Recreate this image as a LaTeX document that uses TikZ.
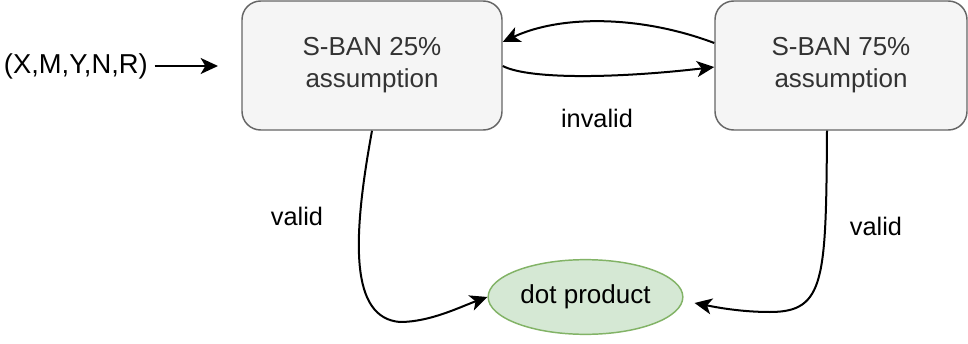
\documentclass[tikz,border=0pt]{standalone}
\usepackage{fontspec}
\setmainfont{Liberation Sans}
\usetikzlibrary{arrows.meta,calc,shapes.geometric}
\definecolor{boxfill}{HTML}{F5F5F5}
\definecolor{boxline}{HTML}{666666}
\definecolor{boxtext}{HTML}{333333}
\definecolor{okfill}{HTML}{D5E8D4}
\definecolor{okline}{HTML}{82B366}
\newcommand{\twolines}[2]{\raisebox{-3pt}{\begin{tabular}{@{}c@{}}#1\\#2\end{tabular}}}
\tikzset{
  statebox/.style={draw=boxline, fill=boxfill, line width=1.1pt,
    rounded corners=14pt, text=boxtext, align=center, inner sep=0pt,
    font=\fontsize{19.5}{24}\selectfont},
  resultnode/.style={ellipse, draw=okline, fill=okfill, line width=1.1pt,
    inner sep=0pt, minimum width=146pt, minimum height=56pt,
    font=\fontsize{19.5}{24}\selectfont},
  flow/.style={line width=1.5pt, -{Stealth[length=13pt,width=12pt,inset=3.5pt]}},
  edgetext/.style={font=\fontsize{19}{23.5}\selectfont, inner sep=0pt}
}
\begin{document}
\begin{tikzpicture}[x=0.75pt, y=-0.75pt]
  \useasboundingbox (0,0) rectangle (968,343);

  % states
  \node[statebox, minimum width=195pt, minimum height=96.75pt] (low) at (372,65.5)
    {\twolines{S-BAN 25\%}{assumption}};
  \node[statebox, minimum width=189pt, minimum height=96.75pt] (high) at (841,65.5)
    {\twolines{S-BAN 75\%}{assumption}};
  \node[resultnode] (dot) at (585.5,297) {\raisebox{-1.5pt}{dot product}};

  % input
  \node[edgetext, font=\fontsize{20.5}{24}\selectfont, anchor=east] (input) at (148,66) {(X,M,Y,N,R)};
  \coordinate (inend) at (218,66);
  \draw[flow] ([xshift=5pt]input.east) -- (inend);

  % transitions between the two assumptions
  \draw[flow] ($(high.west)+(0,-22.5)$) .. controls (640,15) and (560,15) .. ($(low.east)+(0,-23.5)$);
  \draw[flow] ($(low.east)+(0,0.5)$) .. controls (530,80) and (620,78) .. ($(high.west)+(0,1.5)$);
  \node[edgetext] (lblinvalid) at (597,118) {invalid};

  % valid results
  \draw[flow] (low.south) .. controls (352,240) and (350,318) .. (400,322)
    .. controls (430,322) and (460,307) .. (dot.west);
  \node[edgetext] (lblvalidl) at (297,216) {valid};

  \draw[flow] ($(high.south)+(-14,0)$) .. controls (826,280) and (825,312) .. (770,312)
    .. controls (740,312) and (715,307) .. ($(dot.east)+(11,6)$);
  \node[edgetext] (lblvalidr) at (876,226) {valid};
\end{tikzpicture}
\end{document}
